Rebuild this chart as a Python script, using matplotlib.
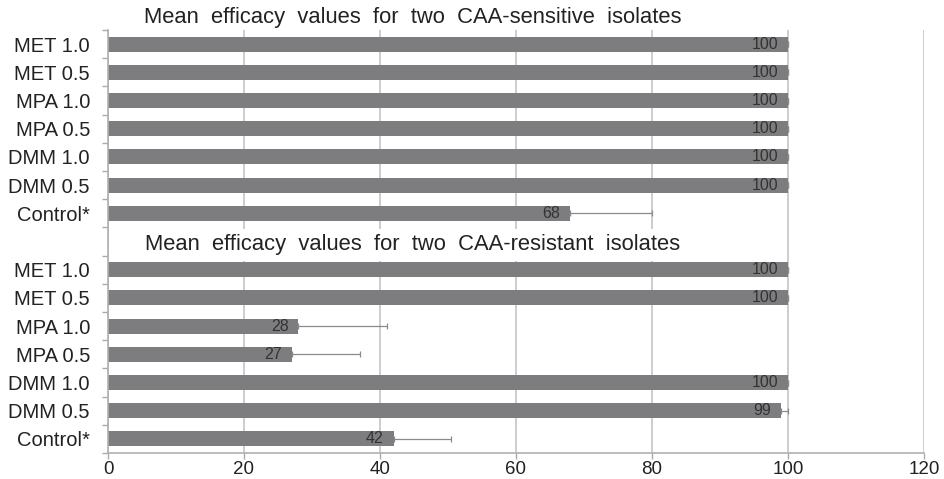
import matplotlib
matplotlib.use("Agg")
import matplotlib.pyplot as plt
import numpy as np

plt.rcParams['font.family'] = ['Liberation Sans', 'DejaVu Sans']

treatments = ["MET 1.0", "MET 0.5", "MPA 1.0", "MPA 0.5", "DMM 1.0", "DMM 0.5", "Control*"]
sensitive = [100, 100, 100, 100, 100, 100, 68]
sensitive_err = [0, 0, 0, 0, 0, 0, 12]
resistant = [100, 100, 28, 27, 100, 99, 42]
resistant_err = [0, 0, 13, 10, 0, 1, 8.5]
title_sensitive = "Mean  efficacy  values  for  two  CAA-sensitive  isolates"
title_resistant = "Mean  efficacy  values  for  two  CAA-resistant  isolates"
xticks = [0, 20, 40, 60, 80, 100, 120]

bar_color = "#7d7d80"
grid_color = "#c9c9c9"

fig = plt.figure(figsize=(9.44, 4.79), dpi=100)
ax = fig.add_axes([108/944, 1-453/479, (924-108)/944, (453-30)/479])

n = len(treatments)
pos_s = np.arange(n)
pos_r = np.arange(n) + n + 1
labels = treatments + [""] + treatments
all_pos = np.arange(2*n + 1)

for pos, vals, errs in [(pos_s, sensitive, sensitive_err), (pos_r, resistant, resistant_err)]:
    ax.barh(pos, vals, height=0.53, color=bar_color, zorder=2)
    ax.errorbar(vals, pos, xerr=[np.zeros(n), errs], fmt='none', ecolor="#8a8a8a",
                elinewidth=0.9, capsize=2.2, capthick=0.9, zorder=3)
    for p, v in zip(pos, vals):
        ax.text(v - 1.45, p, f"{v}", ha='right', va='center', fontsize=11.5,
                color="#333333", zorder=4)

ax.set_xlim(0, 120)
ax.set_ylim(2*n + 0.5, -0.5)
ax.set_xticks(xticks)
ax.set_xticklabels([str(t) for t in xticks], fontsize=13.5, color="#222222")
ax.set_yticks(all_pos)
ax.set_yticklabels(labels, fontsize=14.5, color="#222222")
ax.set_yticks(np.arange(-0.5, 2*n + 1, 1), minor=True)
ax.tick_params(axis='y', which='major', length=0, pad=13)
ax.tick_params(axis='y', which='minor', length=4, color="#aaaaaa", width=1)
ax.tick_params(axis='x', which='major', length=4, color="#aaaaaa", width=1, pad=1.5, direction='out')

ax.xaxis.grid(True, color=grid_color, linewidth=1.3, zorder=0)
ax.set_axisbelow(True)
for s in ['top', 'right']:
    ax.spines[s].set_visible(False)
for s in ['left', 'bottom']:
    ax.spines[s].set_color("#b0b0b0")
    ax.spines[s].set_linewidth(1.2)

fig.text(413/944, 1-18/479, title_sensitive, ha='center', va='center', fontsize=15.8, color="#222222")
ax.text((413 - 108)/816, n + 0.12, title_resistant, transform=ax.get_yaxis_transform(),
        ha='center', va='center', fontsize=15.8, color="#222222", zorder=5,
        bbox=dict(facecolor='white', edgecolor='none', pad=4))

fig.savefig("out.png", dpi=100, facecolor='white')
